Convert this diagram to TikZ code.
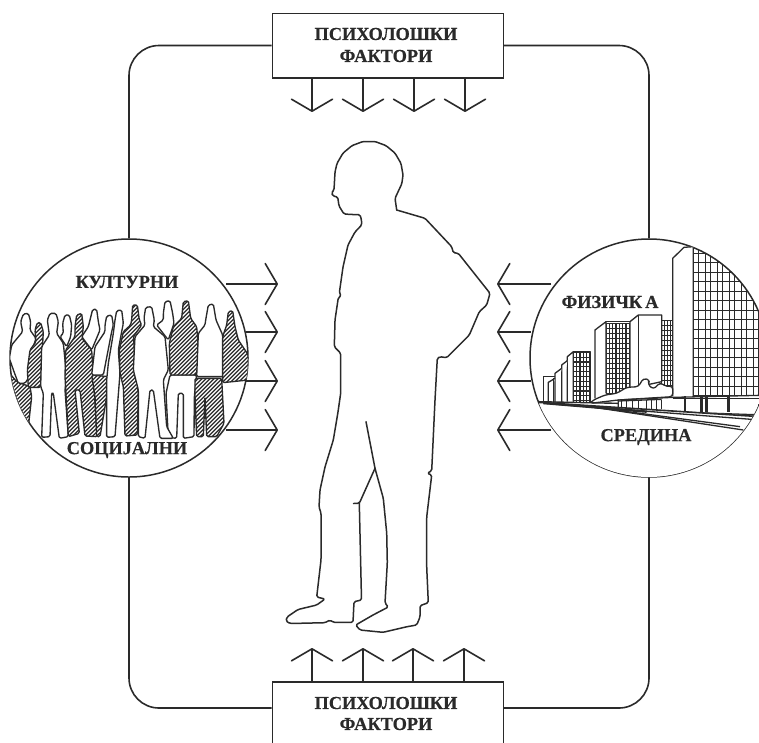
\documentclass[tikz,border=0pt]{standalone}
\usepackage{fontspec}
\setmainfont{Liberation Serif}[BoldFeatures={FakeBold=0.5}]
\usetikzlibrary{arrows.meta}
\definecolor{ink}{HTML}{2A2A2A}
\tikzset{
  lbl/.style={font=\bfseries\fontsize{18.3}{18}\selectfont,text=ink,inner sep=0pt,align=center},
  fbox/.style={draw=ink,line width=1.6pt,fill=white,minimum width=231pt,minimum height=64.4pt,inner sep=0pt},
  disc/.style={circle,draw=ink,line width=1.5pt,fill=white,minimum size=238pt,inner sep=0pt},
  conn/.style={draw=ink,line width=1.6pt},
  arr/.style={conn,-{Straight Barb[length=12pt,width=41pt,line width=1.6pt,round]}},
  wp/.style={draw=ink,line width=1.35pt,rounded corners=1.5pt,line join=round},
  outl/.style={draw=ink,line width=1.5pt,rounded corners=1.5pt,line join=round,line cap=round},
  bld/.style={draw=ink,line width=1.3pt,line join=round},
  gridl/.style={draw=ink,line width=1.25pt},
  hatchl/.style={draw=ink,line width=1.3pt},
}
\newcommand\whitefig[1]{\draw[wp,fill=white] #1;}
\newcommand\hatchfig[1]{%
  \fill[white,rounded corners=1.5pt] #1;
  \begin{scope}[rounded corners=1.5pt]
    \clip #1;
    \foreach \k in {-500,-488,...,800}{\draw[hatchl,sharp corners] (\k,700) -- ({\k+500},200);}
  \end{scope}
  \draw[wp] #1;}
\begin{document}
\begin{tikzpicture}[x=1pt,y=-1pt]
\clip (0,0) rectangle (759,742);
\fill[white] (0,0) rectangle (759,742);
\node[disc] (leftc) at (129,358) {};
\node[disc] (rightc) at (649,358) {};
\node[fbox] (top) at (387.8,45.5) {};
\node[fbox] (bot) at (387.8,714) {};
\coordinate (frb) at (0,708);
\draw[conn,rounded corners=30pt] (top.west) -| (leftc.north);
\draw[conn,rounded corners=30pt] (top.east) -| (rightc.north);
\draw[conn,rounded corners=30pt] (leftc.south) |- (top.west |- frb);
\draw[conn,rounded corners=30pt] (rightc.south) |- (top.east |- frb);
\node[fbox] at (387.8,45.5) {};
\node[fbox] at (387.8,714) {};
\node[lbl] (t1) at (386,34) {ПСИХОЛОШКИ};
\node[lbl] (t2) at (386,56) {ФАКТОРИ};
\node[lbl] (b1) at (386,703) {ПСИХОЛОШКИ};
\node[lbl] (b2) at (386,724) {ФАКТОРИ};
% vertical arrows
\foreach \i/\x in {1/312,2/363,3/414,4/465}{
  \coordinate (te\i) at (\x,112);
  \draw[arr] (top.south -| te\i) -- (te\i);
}
\foreach \i/\x in {1/312,2/363,3/413,4/464}{
  \coordinate (be\i) at (\x,648);
  \draw[arr] (bot.north -| be\i) -- (be\i);
}
% horizontal arrows
\foreach \i/\y/\a/\b in {1/284/226/551,2/332/246/531,3/381/246/531,4/430/226/551}{
  \coordinate (ls\i) at (\a,\y); \coordinate (le\i) at (278,\y);
  \coordinate (rs\i) at (\b,\y); \coordinate (re\i) at (497,\y);
  \draw[arr] (ls\i) -- (le\i);
  \draw[arr] (rs\i) -- (re\i);
}
% person
\draw[outl] (396.7,210) -- (395,198.3) -- (401.8,183.8) -- (403,175) -- (401,163.4) -- (395,153.1) -- (386,145.6) -- (375,141.5) -- (363,141.5) -- (352,145.6) -- (343,153.1) -- (337,163.4) -- (335,172) -- (334,190) -- (331.5,193) -- (333,196) -- (337.7,197) -- (339,206) -- (344,214) -- (352,214.5) -- (360,214.7) -- (361.5,220) -- (361.7,225) -- (355,232) -- (348,245) -- (343,267) -- (339.3,293) -- (341.3,295.7) -- (338.3,297.7) -- (335,320) -- (334.3,346.7) -- (340.7,353.3) -- (340.7,393) -- (338,412) -- (333.3,440) -- (325,467) -- (320,490) -- (319,507) -- (321,513) -- (321,560) -- (316.7,597) -- (325,599) -- (316.7,605) -- (298,609.5) -- (287,617) -- (286,621) -- (290,623.5) -- (325,622.7) -- (330,620) -- (333.3,622.3) -- (353,622.3) -- (354,601.7) -- (361.5,600) -- (359.3,503.3);
\draw[outl] (353.5,503.5) -- (359.3,503.3) -- (375,468.3);
\draw[outl] (366,421.7) -- (375,468.3) -- (383.3,498.3) -- (386.7,533) -- (387.3,563) -- (385,603) -- (388.3,607) -- (373,615) -- (355.7,625) -- (360,630) -- (383,632.3) -- (407,626.7) -- (416.7,625) -- (420,617) -- (420,605.7) -- (428.3,602.7) -- (426.7,567) -- (426.7,517) -- (431.7,475) -- (427.3,473.3) -- (431.7,470.7) -- (435,400) -- (437.3,358.3) -- (440,356.7) -- (446.7,357.7) -- (469.3,335) -- (479.3,311.7) -- (486.7,305) -- (490,293.3) -- (458.3,253.3) -- (453.3,252.7) -- (451.7,246.7) -- (425,218.3) -- (396.7,210);
% crowd
\begin{scope}
\clip (leftc.center) circle[radius=119pt];
\begin{scope}[shift={(0,230)},x=.33333pt,y=-.33333pt]
\hatchfig{(20,420) -- (50,455) -- (90,470) -- (95,500) -- (85,590) -- (20,590) -- cycle}
\whitefig{(62,275) -- (70,252) -- (85,250) -- (92,275) -- (90,300) -- (108,325) -- (100,350) -- (85,445) -- (75,460) -- (55,460) -- (42,425) -- (28,385) -- (35,345) -- (68,305) -- cycle}
\hatchfig{(105,300) -- (112,278) -- (122,278) -- (130,305) -- (128,340) -- (122,472) -- (85,472) -- (82,420) -- (90,360) -- (108,335) -- cycle}
\whitefig{(188,280) -- (195,255) -- (208,255) -- (215,285) -- (212,320) -- (200,350) -- (180,320) -- (190,310) -- cycle}
\whitefig{(142,270) -- (150,250) -- (168,250) -- (175,275) -- (170,310) -- (190,340) -- (200,440) -- (195,480) -- (205,620) -- (178,625) -- (160,490) -- (155,490) -- (150,620) -- (125,622) -- (130,490) -- (122,470) -- (125,350) -- (148,315) -- cycle}
\whitefig{(270,270) -- (278,238) -- (290,238) -- (295,275) -- (300,300) -- (275,360) -- (245,320) -- (265,290) -- cycle}
\hatchfig{(225,290) -- (230,255) -- (245,250) -- (250,290) -- (246,325) -- (275,360) -- (280,440) -- (292,620) -- (255,618) -- (240,480) -- (225,480) -- (238,610) -- (205,620) -- (195,440) -- (197,360) -- (225,320) -- cycle}
\hatchfig{(275,435) -- (325,440) -- (320,500) -- (300,620) -- (290,620) -- (285,500) -- cycle}
\whitefig{(345,270) -- (350,242) -- (365,240) -- (370,280) -- (365,305) -- (355,360) -- (360,430) -- (345,620) -- (320,622) -- (320,450) -- (325,400) -- (340,310) -- cycle}
\whitefig{(315,285) -- (320,258) -- (335,255) -- (340,285) -- (335,305) -- (310,435) -- (275,435) -- (285,350) -- (315,305) -- cycle}
\hatchfig{(395,270) -- (398,225) -- (412,225) -- (418,270) -- (425,285) -- (400,320) -- (410,440) -- (415,490) -- (412,615) -- (375,618) -- (370,470) -- (360,430) -- (358,360) -- (370,305) -- (392,285) -- cycle}
\whitefig{(490,250) -- (495,215) -- (510,212) -- (518,250) -- (522,280) -- (505,330) -- (470,285) -- (490,270) -- cycle}
\whitefig{(510,435) -- (590,435) -- (583,500) -- (582,620) -- (550,625) -- (550,490) -- (535,490) -- (530,625) -- (505,622) -- (498,490) -- cycle}
\whitefig{(432,265) -- (437,232) -- (455,230) -- (463,270) -- (460,290) -- (495,320) -- (505,420) -- (490,450) -- (500,590) -- (520,625) -- (480,625) -- (460,480) -- (450,480) -- (435,625) -- (415,620) -- (415,480) -- (400,420) -- (405,320) -- (435,285) -- cycle}
\hatchfig{(545,265) -- (550,215) -- (565,212) -- (572,265) -- (590,290) -- (600,410) -- (590,435) -- (510,435) -- (508,340) -- (520,290) -- cycle}
\whitefig{(617,270) -- (625,225) -- (640,222) -- (648,270) -- (668,315) -- (670,440) -- (590,440) -- (595,310) -- (615,285) -- cycle}
\hatchfig{(585,445) -- (665,445) -- (672,580) -- (650,620) -- (620,620) -- (615,500) -- (610,620) -- (590,620) -- (585,500) -- cycle}
\hatchfig{(680,285) -- (685,245) -- (698,242) -- (705,290) -- (715,330) -- (745,375) -- (745,450) -- (668,458) -- (668,320) -- cycle}
\end{scope}
\end{scope}
% city
\begin{scope}
\clip (rightc.center) circle[radius=119pt];
\begin{scope}[shift={(480,230)},x=.33333pt,y=-.33333pt]
% big tower grid
\foreach \k in {0,...,6}{
  \draw[gridl] ({640+\k*36},40) -- ({640+\k*36},498);
  \draw[gridl] ({655+\k*36},40) -- ({655+\k*36},498);
}
\foreach \k in {0,...,15}{
  \draw[gridl] (640,{70+\k*28.5}) -- (850,{70+\k*28.5});
}
% mid grid
\foreach \k in {0,...,4}{\draw[gridl] ({545+\k*8.5},272) -- ({545+\k*8.5},470);}
\foreach \k in {0,...,13}{\draw[gridl] (545,{272+\k*15}) -- (580,{272+\k*15});}
\foreach \k in {0,...,7}{\draw[gridl] ({378+\k*10},280) -- ({378+\k*10},490);}
\foreach \k in {0,...,14}{\draw[gridl] (378,{280+\k*15}) -- (450,{280+\k*15});}
\foreach \k in {0,...,5}{\draw[gridl] ({280+\k*10},367) -- ({280+\k*10},515);}
\foreach \k in {0,...,10}{\draw[gridl] (280,{367+\k*14.5}) -- (330,{367+\k*14.5});}
% faces
\draw[bld,fill=white] (578,498) -- (578,85) -- (612,52) -- (640,50) -- (640,498);
\draw[bld,fill=white] (450,470) -- (450,275) -- (475,255) -- (545,255) -- (545,455) -- (475,470);
\draw[bld] (475,255) -- (475,470);
\draw[bld] (545,272) -- (578,272);
\draw[bld,fill=white] (345,505) -- (345,300) -- (378,275) -- (378,490);
\draw[bld] (378,275) -- (450,275);
\draw[bld,fill=white] (262,515) -- (262,380) -- (280,365) -- (280,515);
\draw[bld] (280,365) -- (330,365) -- (330,515);
\draw[bld,fill=white] (245,518) -- (245,405) -- (262,392);
\draw[bld,fill=white] (225,520) -- (225,430) -- (245,415);
\draw[bld,fill=white] (205,515) -- (205,457) -- (225,445);
\draw[bld] (190,515) -- (190,440) -- (225,440);
\draw[bld] (220,445) -- (220,520);
% trees
\draw[bld,fill=white,rounded corners=3pt] (330,520) -- (340,510) -- (375,495) -- (410,490) -- (440,472) -- (475,470) -- (490,445) -- (510,450) -- (503,462) -- (520,478) -- (540,458) -- (560,470) -- (578,468) -- (578,500) -- (415,510) -- cycle;
% low building
\draw[bld,fill=white] (415,510) -- (580,502) -- (840,496) -- (840,560) -- (415,535) -- cycle;
\draw[bld] (580,505) -- (840,505);
\draw[bld] (415,513) -- (545,508);
\draw[bld,line width=1.6pt] (545,545) -- (840,555);
\foreach \x in {425,440,458,475,500,515,530,545}{\draw[bld] (\x,510) -- (\x,537);}
\foreach \x in {615,665,680,745}{\draw[bld,line width=2.6pt] (\x,498) -- (\x,547);}
% ground
\fill[white] (175,520) -- (840,558) -- (840,800) -- (100,800) -- cycle;
\draw[bld,line width=1.4pt] (175,515) -- (415,520);
\draw[bld,line width=1.6pt] (175,517) -- (840,560);
\draw[bld] (190,520) -- (840,570);
\draw[bld] (330,530) -- (780,590);
\draw[bld] (330,530) -- (790,600);
\draw[bld,line width=2.4pt] (190,519) -- (500,545);
\end{scope}
\end{scope}
\node[lbl] (c1) at (127,282) {КУЛТУРНИ};
\node[lbl] (c2) at (127,450) {СОЦИЈАЛНИ};
\node[lbl] (f1) at (610,302) {ФИЗИЧК\,А};
\node[lbl] (f2) at (646,437) {СРЕДИНА};
\end{tikzpicture}
\end{document}
